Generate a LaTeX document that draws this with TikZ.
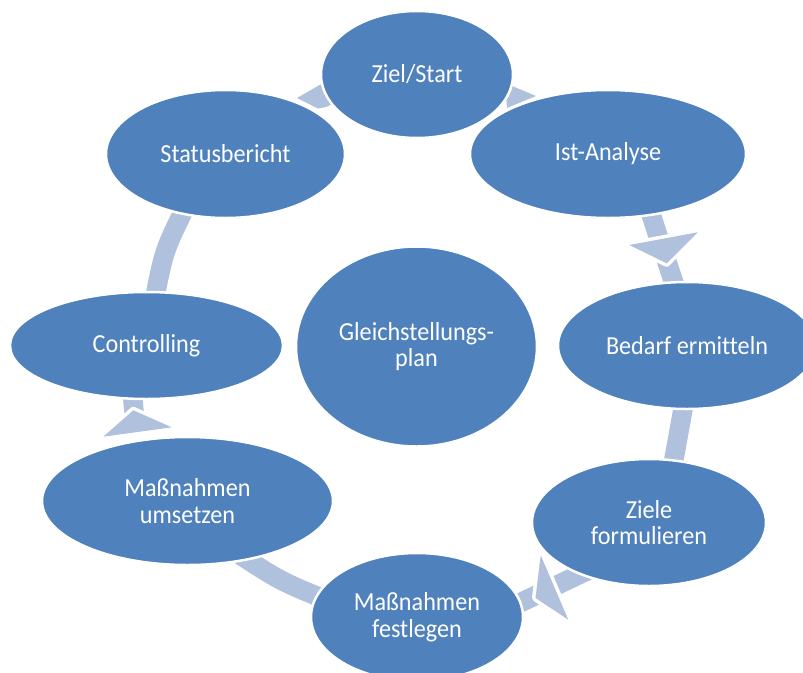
\documentclass[tikz,border=0pt]{standalone}
\usepackage{fontspec}
\setmainfont[Ligatures=NoCommon,FakeStretch=0.93]{Carlito}
\usetikzlibrary{shapes.geometric}
\definecolor{nodeblue}{RGB}{79,129,189}
\definecolor{arrowc}{RGB}{176,193,221}
\begin{document}
\begin{tikzpicture}[x=1pt,y=-1pt,
  cyc/.style={ellipse, draw=white, line width=2.5pt, fill=nodeblue, text=white,
    inner sep=0pt, outer sep=0pt, align=center,
    font=\fontsize{26}{26.5}\selectfont},
  shaft/.style={draw=arrowc, line width=19.5pt, line cap=butt},
  headhalo/.style={draw=white, line width=7pt, line join=round},
  headfill/.style={fill=arrowc}]
\useasboundingbox (0,0) rectangle (803,672);
\clip (0,0) rectangle (803,672);

% ---- arrow coordinates ----
% Status -> Ziel (outer barb visible)
\coordinate (sz1) at (297,98);
\coordinate (sz2) at (330,79);
\coordinate (sz3) at (342,100);
\coordinate (sz4) at (326,107);
\coordinate (sz5) at (318,108.5);
% Ziel -> Ist (tip region visible)
\coordinate (zi1) at (505,83);
\coordinate (zi2) at (536,96);
\coordinate (zi3) at (507,108);
% Ist -> Bedarf
\coordinate (ib1) at (648,205);
\coordinate (ib2) at (660,242);
\coordinate (ib3) at (663,250);
\coordinate (ib4) at (677,292);
\coordinate (ibh1) at (629.3,245);
\coordinate (ibh2) at (697.7,232.3);
\coordinate (ibh3) at (666.7,263.3);
% Bedarf -> Ziele
\coordinate (bz1) at (685,398);
\coordinate (bz2) at (672,470);
% Ziele -> Festlegen
\coordinate (zf1) at (597,566);
\coordinate (zf2) at (548,589.5);
\coordinate (zf3) at (546,590.5);
\coordinate (zf4) at (506,609.5);
\coordinate (zfh1) at (540.7,555.3);
\coordinate (zfh2) at (568.3,619.7);
\coordinate (zfh3) at (535.5,598);
% Festlegen -> Umsetzen
\coordinate (fu1) at (330,601.5);
\coordinate (fuc) at (280.9,581.4);
\coordinate (fu2) at (237,553);
% Umsetzen -> Controlling
\coordinate (uc1) at (135,422);
\coordinate (uc2) at (132,390);
\coordinate (uch1) at (103.3,436.7);
\coordinate (uch2) at (171.7,427.3);
\coordinate (uch3) at (133.3,410.3);
% Controlling -> Status
\coordinate (cs1) at (154,302);
\coordinate (csc) at (164,250.5);
\coordinate (cs2) at (187,204);

% ---- arrows ----
\fill[arrowc] (sz1) -- (sz2) -- (sz3) -- (sz4) -- (sz5) -- cycle;
\fill[arrowc] (zi1) -- (zi2) -- (zi3) -- cycle;

\draw[shaft] (ib3) -- (ib4);
\draw[shaft] (ib1) -- (ib2);
\draw[headhalo] (ibh1) -- (ibh2) -- (ibh3) -- cycle;
\fill[headfill] (ibh1) -- (ibh2) -- (ibh3) -- cycle;

\draw[shaft] (bz1) -- (bz2);

\draw[shaft] (zf3) -- (zf4);
\draw[shaft] (zf1) -- (zf2);
\draw[headhalo] (zfh1) -- (zfh2) -- (zfh3) -- cycle;
\fill[headfill] (zfh1) -- (zfh2) -- (zfh3) -- cycle;

\draw[shaft] (fu1) .. controls (fuc) .. (fu2);

\draw[shaft] (uc1) -- (uc2);
\draw[headhalo] (uch1) -- (uch2) -- (uch3) -- cycle;
\fill[headfill] (uch1) -- (uch2) -- (uch3) -- cycle;

\draw[shaft] (cs1) .. controls (csc) .. (cs2);

% ---- nodes ----
\node[cyc, minimum width=192pt, minimum height=127pt] (ziel) at (417,74.5) {Ziel/Start};
\node[cyc, minimum width=276pt, minimum height=128pt] (ist) at (608,154) {Ist-Analyse};
\node[cyc, minimum width=239pt, minimum height=128pt] (status) at (225.5,154) {Statusbericht};
\node[cyc, minimum width=258pt, minimum height=127pt] (bedarf) at (687,345.5) {Bedarf ermitteln};
\node[cyc, minimum width=273pt, minimum height=107pt] (controlling) at (146.5,345.5) {Controlling};
\node[cyc, minimum width=241pt, minimum height=200pt] (plan) at (416.5,346.5) {Gleichstellungs-\\plan};
\node[cyc, minimum width=234pt, minimum height=127pt] (ziele) at (649,522.5) {Ziele\\formulieren};
\node[cyc, minimum width=291pt, minimum height=128pt] (umsetzen) at (187.5,501) {Maßnahmen\\umsetzen};
\node[cyc, minimum width=212pt, minimum height=128pt] (festlegen) at (417,617) {Maßnahmen\\festlegen};
\end{tikzpicture}
\end{document}
